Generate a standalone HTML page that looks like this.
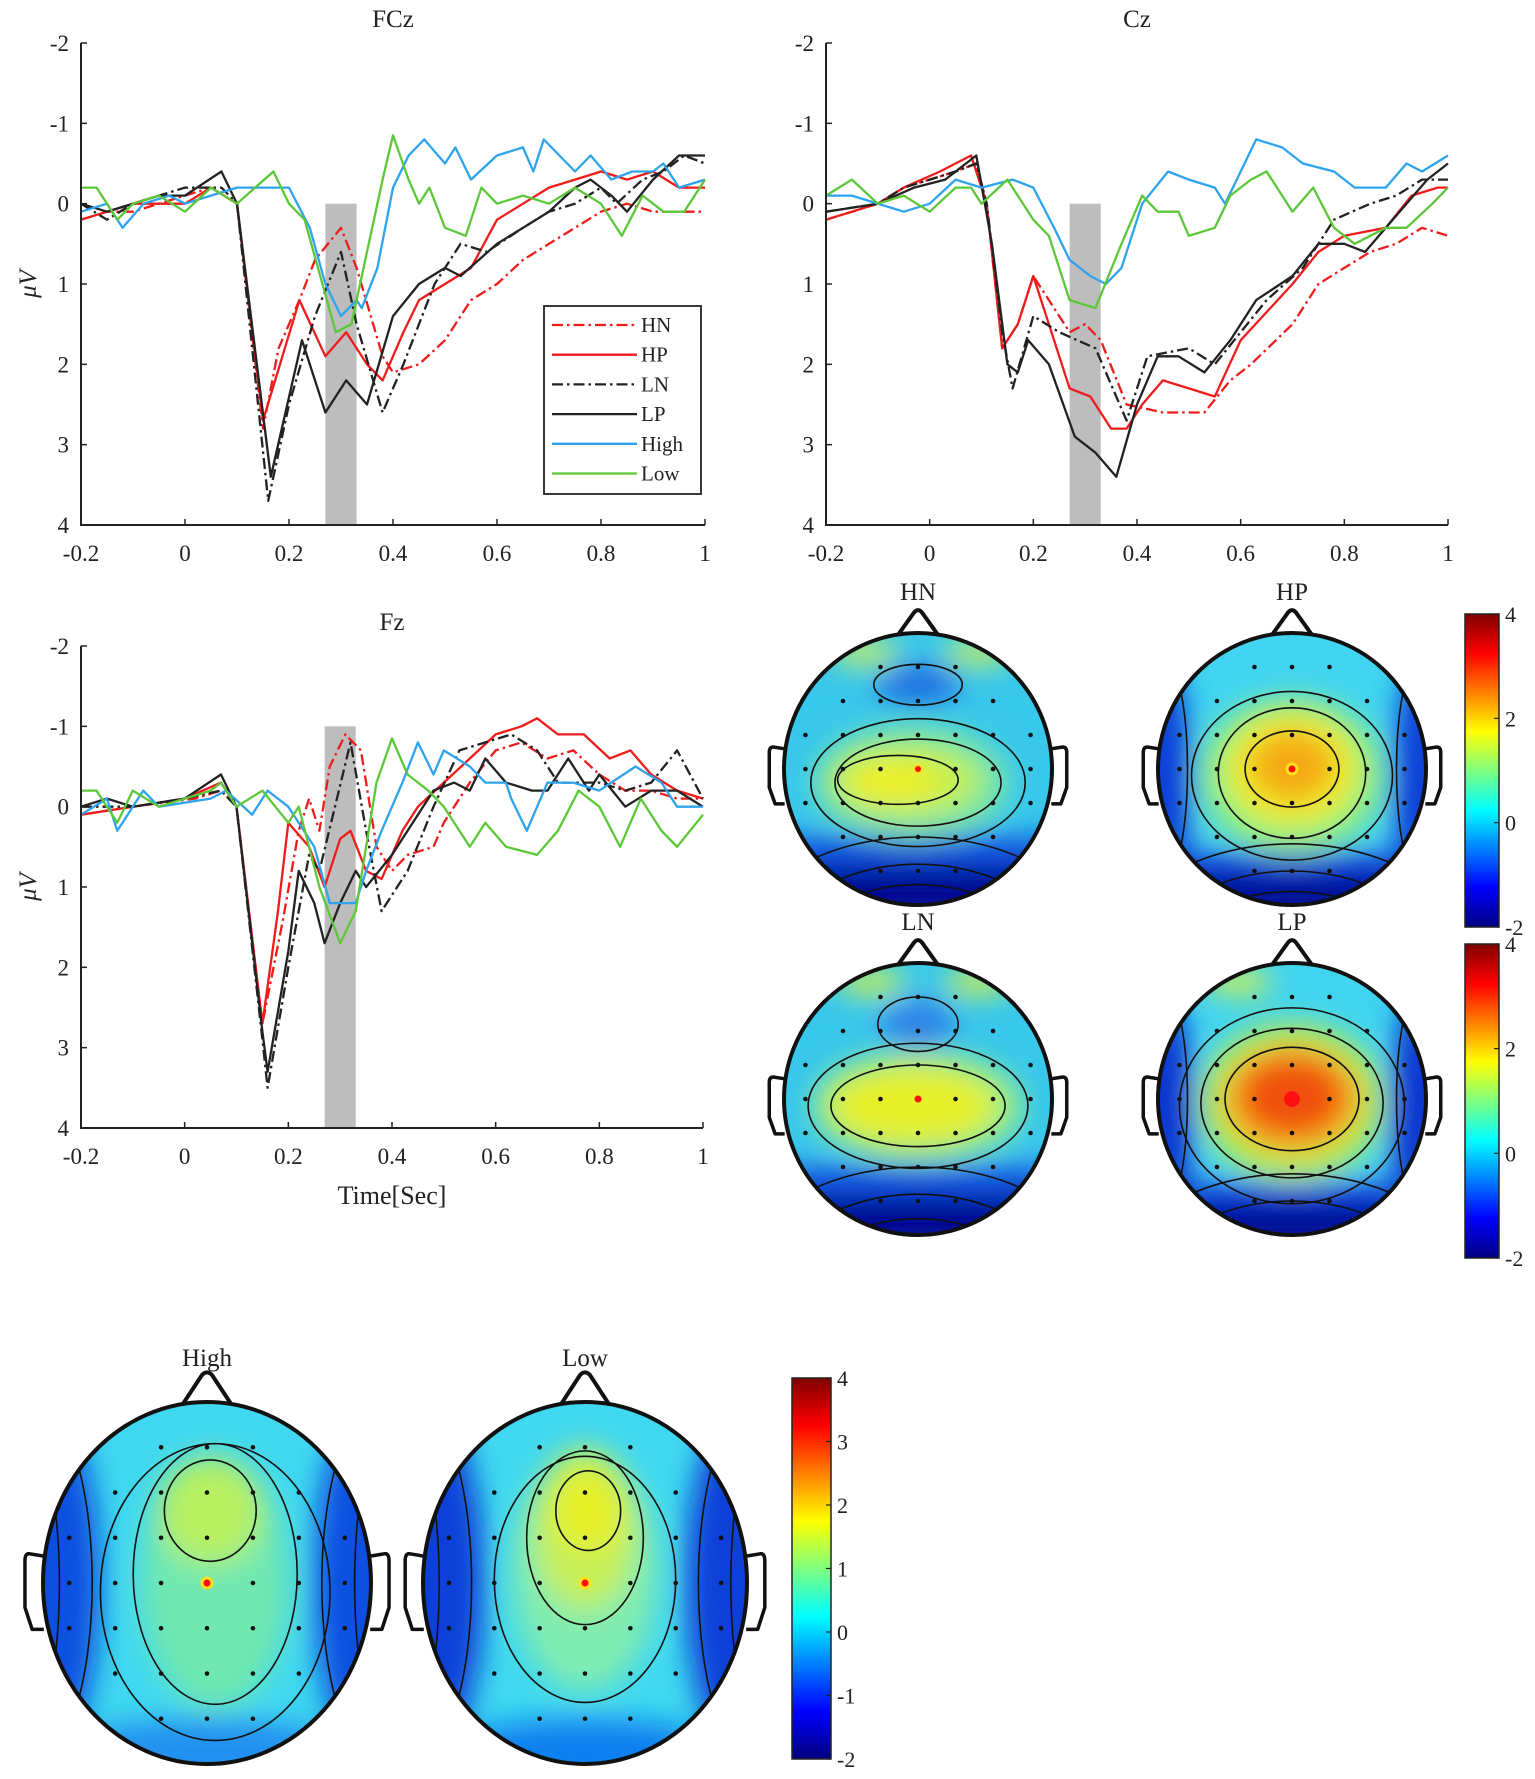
<!DOCTYPE html>
<html><head><meta charset="utf-8"><style>
html,body{margin:0;padding:0;background:#fff}
svg{display:block}
text{font-family:"Liberation Serif",serif;fill:#222}
</style></head><body>
<svg id="fig" width="1535" height="1779" viewBox="0 0 1535 1779" xmlns="http://www.w3.org/2000/svg">
<defs>
<linearGradient id="jet" x1="0" y1="1" x2="0" y2="0">
<stop offset="0" stop-color="#00007f"/><stop offset="0.125" stop-color="#0000ff"/><stop offset="0.375" stop-color="#00ffff"/><stop offset="0.625" stop-color="#ffff00"/><stop offset="0.875" stop-color="#ff0000"/><stop offset="1" stop-color="#7f0000"/>
</linearGradient>
<filter id="blur" x="-20%" y="-20%" width="140%" height="140%"><feGaussianBlur stdDeviation="14"/></filter>
</defs>
<g id="plots"></g>
<g id="heads"></g>
<g id="cbars"></g>
</svg>
<script>
const NS='http://www.w3.org/2000/svg';
// ---- data ----
const xTicks=[-0.2,0,0.2,0.4,0.6,0.8,1];
const xTickLabels=['-0.2','0','0.2','0.4','0.6','0.8','1'];
const yTicks=[-2,-1,0,1,2,3,4];
const yTickLabels=['-2','-1','0','1','2','3','4'];
const seriesNames=['HN','HP','LN','LP','High','Low'];

const fczHN=[[-0.2,0.2],[-0.15,0.1],[-0.1,0.1],[-0.05,0],[0,-0.1],[0.05,-0.2],[0.1,0],[0.15,2.8],[0.18,1.8],[0.22,1.2],[0.25,0.7],[0.3,0.3],[0.33,0.8],[0.38,1.9],[0.4,2.1],[0.45,2.0],[0.5,1.7],[0.55,1.2],[0.6,1.0],[0.65,0.7],[0.7,0.5],[0.75,0.3],[0.8,0.1],[0.85,0],[0.9,0.1],[0.95,0.1],[1,0.1]];
const fczHP=[[-0.2,0.2],[-0.15,0.1],[-0.1,0],[-0.05,0],[0,0],[0.05,-0.2],[0.1,0],[0.15,2.7],[0.22,1.2],[0.27,1.9],[0.31,1.6],[0.35,2.0],[0.38,2.2],[0.42,1.6],[0.45,1.2],[0.5,1.0],[0.55,0.8],[0.6,0.2],[0.65,0],[0.7,-0.2],[0.75,-0.3],[0.8,-0.4],[0.85,-0.3],[0.9,-0.4],[0.95,-0.2],[1,-0.2]];
const fczLN=[[-0.2,0],[-0.15,0.2],[-0.1,0],[-0.05,-0.1],[0,-0.2],[0.07,-0.2],[0.1,0],[0.16,3.7],[0.2,2.5],[0.25,1.4],[0.3,0.6],[0.33,1.5],[0.38,2.6],[0.42,2.0],[0.48,1.0],[0.53,0.5],[0.58,0.6],[0.65,0.3],[0.7,0.1],[0.75,0],[0.8,-0.2],[0.83,0],[0.88,-0.3],[0.92,-0.4],[0.96,-0.6],[1,-0.5]];
const fczLP=[[-0.2,0],[-0.15,0.1],[-0.1,0],[-0.05,-0.1],[0,-0.1],[0.07,-0.4],[0.1,0],[0.165,3.4],[0.225,1.7],[0.27,2.6],[0.31,2.2],[0.35,2.5],[0.4,1.4],[0.45,1.0],[0.5,0.8],[0.53,0.9],[0.6,0.5],[0.65,0.3],[0.7,0.1],[0.75,-0.2],[0.78,-0.3],[0.82,-0.1],[0.85,0.1],[0.9,-0.3],[0.95,-0.6],[1,-0.6]];
const fczHigh=[[-0.2,0.1],[-0.15,0],[-0.12,0.3],[-0.08,0],[-0.03,-0.1],[0,0],[0.05,-0.1],[0.1,-0.2],[0.15,-0.2],[0.2,-0.2],[0.24,0.3],[0.27,1.0],[0.3,1.4],[0.33,1.2],[0.34,1.3],[0.37,0.8],[0.4,-0.2],[0.43,-0.6],[0.46,-0.8],[0.5,-0.5],[0.52,-0.7],[0.55,-0.3],[0.6,-0.6],[0.65,-0.7],[0.67,-0.4],[0.69,-0.8],[0.72,-0.6],[0.75,-0.4],[0.78,-0.6],[0.82,-0.3],[0.86,-0.4],[0.9,-0.4],[0.92,-0.5],[0.95,-0.2],[1,-0.3]];
const fczLow=[[-0.2,-0.2],[-0.17,-0.2],[-0.13,0.2],[-0.1,0],[-0.05,-0.1],[0,0.1],[0.05,-0.2],[0.1,0],[0.17,-0.4],[0.2,0],[0.23,0.2],[0.26,0.9],[0.29,1.6],[0.32,1.5],[0.34,0.9],[0.38,-0.3],[0.4,-0.85],[0.43,-0.3],[0.45,0],[0.47,-0.2],[0.5,0.3],[0.54,0.4],[0.57,-0.2],[0.6,0],[0.65,-0.1],[0.7,0],[0.75,-0.2],[0.8,0],[0.84,0.4],[0.88,-0.1],[0.92,0.1],[0.96,0.1],[1,-0.3]];

const czHN=[[-0.2,0.2],[-0.1,0],[-0.05,-0.2],[0,-0.3],[0.05,-0.4],[0.09,-0.5],[0.11,0],[0.14,1.8],[0.17,1.5],[0.2,0.9],[0.23,1.2],[0.27,1.6],[0.3,1.5],[0.33,1.7],[0.38,2.5],[0.45,2.6],[0.53,2.6],[0.58,2.2],[0.62,2.0],[0.7,1.5],[0.75,1.0],[0.8,0.8],[0.85,0.6],[0.9,0.5],[0.95,0.3],[1,0.4]];
const czHP=[[-0.2,0.2],[-0.1,0],[-0.05,-0.2],[0.02,-0.4],[0.08,-0.6],[0.11,0],[0.14,1.8],[0.17,1.5],[0.2,0.9],[0.23,1.5],[0.27,2.3],[0.31,2.4],[0.35,2.8],[0.38,2.8],[0.41,2.5],[0.45,2.2],[0.5,2.3],[0.55,2.4],[0.6,1.7],[0.7,1.0],[0.75,0.6],[0.8,0.4],[0.88,0.3],[0.93,-0.1],[0.98,-0.2],[1,-0.2]];
const czLN=[[-0.2,0.1],[-0.1,0],[-0.05,-0.2],[0,-0.3],[0.05,-0.4],[0.09,-0.5],[0.11,0],[0.14,1.6],[0.16,2.3],[0.2,1.4],[0.25,1.6],[0.32,1.8],[0.38,2.7],[0.42,1.9],[0.5,1.8],[0.55,2.0],[0.65,1.2],[0.72,0.8],[0.78,0.2],[0.85,0],[0.9,-0.1],[0.95,-0.3],[1,-0.3]];
const czLP=[[-0.2,0.1],[-0.1,0],[-0.03,-0.2],[0.03,-0.3],[0.09,-0.6],[0.12,0.5],[0.15,2.0],[0.17,2.1],[0.19,1.7],[0.23,2.0],[0.28,2.9],[0.32,3.1],[0.36,3.4],[0.4,2.5],[0.44,1.9],[0.48,1.9],[0.53,2.1],[0.58,1.7],[0.63,1.2],[0.7,0.9],[0.75,0.5],[0.8,0.5],[0.84,0.6],[0.88,0.3],[0.96,-0.3],[1,-0.5]];
const czHigh=[[-0.2,-0.1],[-0.15,-0.1],[-0.05,0.1],[0,0],[0.05,-0.3],[0.1,-0.2],[0.16,-0.3],[0.2,-0.2],[0.24,0.3],[0.27,0.7],[0.31,0.9],[0.34,1.0],[0.37,0.8],[0.41,0],[0.46,-0.4],[0.5,-0.3],[0.55,-0.2],[0.57,0],[0.6,-0.4],[0.63,-0.8],[0.68,-0.7],[0.72,-0.5],[0.78,-0.4],[0.82,-0.2],[0.88,-0.2],[0.92,-0.5],[0.95,-0.4],[1,-0.6]];
const czLow=[[-0.2,-0.1],[-0.15,-0.3],[-0.1,0],[-0.05,-0.1],[0,0.1],[0.05,-0.2],[0.08,-0.2],[0.1,0],[0.15,-0.3],[0.2,0.2],[0.23,0.4],[0.27,1.2],[0.32,1.3],[0.37,0.5],[0.41,-0.1],[0.44,0.1],[0.48,0.1],[0.5,0.4],[0.55,0.3],[0.58,-0.1],[0.62,-0.3],[0.65,-0.4],[0.7,0.1],[0.74,-0.2],[0.78,0.3],[0.82,0.5],[0.88,0.3],[0.92,0.3],[0.97,0],[1,-0.2]];

const fzHN=[[-0.2,0.1],[-0.1,0],[0.02,-0.1],[0.07,-0.2],[0.1,0],[0.15,2.7],[0.19,1.4],[0.22,0.3],[0.24,-0.1],[0.26,0.3],[0.28,-0.5],[0.31,-0.9],[0.34,-0.7],[0.37,0.5],[0.4,0.8],[0.43,0.6],[0.48,0.5],[0.5,0.2],[0.55,-0.3],[0.6,-0.7],[0.65,-0.8],[0.7,-0.6],[0.75,-0.7],[0.8,-0.4],[0.85,-0.2],[0.9,-0.2],[0.95,-0.1],[1,-0.1]];
const fzHP=[[-0.2,0.1],[-0.1,0],[0,-0.1],[0.07,-0.3],[0.1,0],[0.15,2.7],[0.18,1.3],[0.2,0.2],[0.24,0.5],[0.27,1.0],[0.3,0.4],[0.32,0.3],[0.35,0.8],[0.38,0.9],[0.42,0.3],[0.45,0],[0.5,-0.3],[0.55,-0.6],[0.6,-0.9],[0.65,-1.0],[0.68,-1.1],[0.72,-0.9],[0.77,-0.9],[0.82,-0.6],[0.86,-0.7],[0.9,-0.4],[0.95,-0.2],[1,-0.1]];
const fzLN=[[-0.2,0],[-0.1,0],[0,-0.1],[0.07,-0.2],[0.1,0],[0.15,2.9],[0.16,3.5],[0.2,2.0],[0.24,0.6],[0.26,0.8],[0.29,0],[0.32,-0.8],[0.35,0.3],[0.38,1.3],[0.43,0.8],[0.48,0],[0.53,-0.7],[0.58,-0.8],[0.63,-0.9],[0.68,-0.7],[0.72,-0.3],[0.8,-0.3],[0.85,-0.2],[0.9,-0.3],[0.95,-0.7],[1,-0.1]];
const fzLP=[[-0.2,0],[-0.15,-0.1],[-0.1,0],[0,-0.1],[0.07,-0.4],[0.1,0],[0.15,2.8],[0.16,3.3],[0.2,1.8],[0.22,0.8],[0.25,1.2],[0.27,1.7],[0.3,1.2],[0.33,0.8],[0.35,1.0],[0.4,0.6],[0.43,0.3],[0.48,-0.2],[0.52,-0.3],[0.55,-0.2],[0.58,-0.6],[0.62,-0.3],[0.67,-0.2],[0.7,-0.2],[0.74,-0.6],[0.78,-0.2],[0.8,-0.4],[0.85,0],[0.9,-0.2],[0.95,-0.2],[1,0]];
const fzHigh=[[-0.2,0.1],[-0.15,-0.1],[-0.13,0.3],[-0.08,-0.2],[-0.05,0],[0.05,-0.1],[0.08,-0.2],[0.13,0.1],[0.16,-0.2],[0.2,0],[0.25,0.5],[0.28,1.2],[0.33,1.2],[0.35,0.8],[0.38,0.3],[0.42,-0.3],[0.45,-0.8],[0.48,-0.4],[0.5,-0.7],[0.55,-0.5],[0.58,-0.3],[0.62,-0.3],[0.63,-0.1],[0.66,0.3],[0.7,-0.3],[0.75,-0.3],[0.8,-0.2],[0.87,-0.5],[0.92,-0.3],[0.95,0],[1,0]];
const fzLow=[[-0.2,-0.2],[-0.17,-0.2],[-0.13,0.2],[-0.1,-0.2],[-0.05,0],[0.05,-0.2],[0.07,-0.3],[0.1,0],[0.15,-0.2],[0.2,0.2],[0.22,0],[0.26,1.0],[0.3,1.7],[0.33,1.3],[0.37,-0.3],[0.4,-0.85],[0.43,-0.4],[0.47,-0.2],[0.5,0],[0.55,0.5],[0.58,0.2],[0.62,0.5],[0.68,0.6],[0.72,0.3],[0.76,-0.2],[0.8,0],[0.84,0.5],[0.88,-0.1],[0.92,0.3],[0.95,0.5],[1,0.1]];

const colorbarTicks1=[4,2,0,-2];
const colorbarTicks3=[4,3,2,1,0,-1,-2];

// ---- helpers ----
function mk(tag,attrs,parent){const e=document.createElementNS(NS,tag);for(const k in attrs)e.setAttribute(k,attrs[k]);if(parent)parent.appendChild(e);return e;}
function txt(s,x,y,size,anchor,parent){const t=mk('text',{x:x,y:y,'font-size':size,'text-anchor':anchor||'middle'},parent);t.textContent=s;return t;}

const styles={HN:{c:'#f01c1c',d:'11 4 2.5 4'},HP:{c:'#f01c1c',d:''},LN:{c:'#222',d:'11 4 2.5 4'},LP:{c:'#222',d:''},High:{c:'#2ea3ee',d:''},Low:{c:'#5cc838',d:''}};

function drawPlot(cfg){
  const g=mk('g',{},document.getElementById('plots'));
  
  
  const X=t=>cfg.x0+(t-(-0.2))/(1.2)*(cfg.x1-cfg.x0);
  const Y=v=>cfg.y0+(v-(-2))/6*(cfg.y1-cfg.y0);
  const gr=mk('rect',{x:X(0.27),y:Y(cfg.grayTop),width:X(0.33)-X(0.27),height:Y(4)-Y(cfg.grayTop),fill:'#bdbdbd'},g);
  
  
  cfg.series.forEach((s,i)=>{
    const st=styles[seriesNames[i]];
    const p=mk('polyline',{points:s.map(d=>X(d[0]).toFixed(1)+','+Y(d[1]).toFixed(1)).join(' '),fill:'none',stroke:st.c,'stroke-width':2.3,'stroke-linejoin':'round','stroke-dasharray':st.d},g);
    
    
  });
  const ax=mk('path',{d:`M${cfg.x0},${Y(-2)} L${cfg.x0},${Y(4)} L${cfg.x1},${Y(4)}`,fill:'none',stroke:'#222','stroke-width':2},g);
  
  
  yTicks.forEach((v,i)=>{
    mk('line',{x1:cfg.x0,x2:cfg.x0+6,y1:Y(v),y2:Y(v),stroke:'#222','stroke-width':1.5},g);
    const t=txt(yTickLabels[i],cfg.x0-12,Y(v)+8,23,'end',g);
    
    
  });
  xTicks.forEach((v,i)=>{
    mk('line',{x1:X(v),x2:X(v),y1:Y(4),y2:Y(4)-6,stroke:'#222','stroke-width':1.5},g);
    const t=txt(xTickLabels[i],X(v),Y(4)+36,23,'middle',g);
    
    
  });
  const tt=txt(cfg.name,(cfg.x0+cfg.x1)/2,cfg.titleY,25,'middle',g);
  
  
  if(cfg.ylab){
    const yl=mk('text',{x:0,y:0,'font-size':25,'text-anchor':'middle',transform:`translate(36,${(Y(-2)+Y(4))/2}) rotate(-90)`,'font-style':'italic'},g);
    yl.textContent='μV';
    
    
  }
  return {g,X,Y};
}

const p1=drawPlot({name:'FCz',x0:81,x1:705,y0:43,y1:525,titleY:27,grayTop:0,series:[fczHN,fczHP,fczLN,fczLP,fczHigh,fczLow],ylab:true});
drawPlot({name:'Cz',x0:826,x1:1448,y0:43,y1:525,titleY:27,grayTop:0,series:[czHN,czHP,czLN,czLP,czHigh,czLow],ylab:false});
const p3=drawPlot({name:'Fz',x0:81,x1:703,y0:646,y1:1128,titleY:630,grayTop:-1,series:[fzHN,fzHP,fzLN,fzLP,fzHigh,fzLow],ylab:true});
const xt=txt('Time[Sec]',392,1204,26,'middle',p3.g);



(function(){
  const g=mk('g',{},p1.g);
  
  
  mk('rect',{x:544,y:306,width:157,height:188,fill:'#fff',stroke:'#222','stroke-width':1.8},g);
  seriesNames.forEach((n,i)=>{
    const y=325+i*29.7;const st=styles[n];
    const e=mk('g',{},g);
    
    
    mk('line',{x1:552,x2:637,y1:y,y2:y,stroke:st.c,'stroke-width':2.3,'stroke-dasharray':st.d},e);
    txt(n,641,y+7,21,'start',e);
  });
})();

function head(cfg){
  const g=mk('g',{},document.getElementById('heads'));
  
  
  const {cx,cy,rx,ry}=cfg;
  const id='clip'+cfg.name;
  const cp=mk('clipPath',{id:id},g);mk('ellipse',{cx,cy,rx,ry},cp);
  const inner=mk('g',{'clip-path':`url(#${id})`},g);
  mk('ellipse',{cx,cy,rx,ry,fill:cfg.base},inner);
  const bl=mk('g',{filter:'url(#blur)'},inner);
  cfg.blobs.forEach(b=>{
    if(b[0]==='r') mk('rect',{x:cx-rx*1.3,y:cy+b[1]*ry,width:rx*2.6,height:ry*(b[2]-b[1]),fill:b[3]},bl);
    else mk('ellipse',{cx:cx+b[0]*rx,cy:cy+b[1]*ry,rx:b[2]*rx,ry:b[3]*ry,fill:b[4]},bl);
  });
  cfg.contours.forEach(c=>{mk('ellipse',{cx:cx+c[0]*rx,cy:cy+c[1]*ry,rx:c[2]*rx,ry:c[3]*ry,fill:'none',stroke:'#111','stroke-width':1.6},inner);});
  for(let v=-0.75;v<=0.76;v+=0.25){for(let u=-0.84;u<=0.85;u+=0.28){
    if(u*u/0.85+v*v/0.85<1 && !(Math.abs(u)<0.01&&Math.abs(v)<0.01)) mk('circle',{cx:cx+u*rx,cy:cy+v*ry,r:2.3,fill:'#111'},inner);
  }}
  const md=mk('circle',{cx:cx+cfg.mark[0]*rx,cy:cy+cfg.mark[1]*ry,r:cfg.mark[2],fill:'#ff1010',stroke:'#ffe020','stroke-width':cfg.mark[3]},g);
  
  
  mk('ellipse',{cx,cy,rx,ry,fill:'none',stroke:'#111','stroke-width':4},g);
  const nw=rx*0.15,nh=ry*0.15;
  mk('path',{d:`M${cx-nw},${cy-ry*0.985} L${cx-nw*0.2},${cy-ry-nh} Q${cx},${cy-ry-nh-5} ${cx+nw*0.2},${cy-ry-nh} L${cx+nw},${cy-ry*0.985}`,fill:'none',stroke:'#111','stroke-width':4,'stroke-linejoin':'round'},g);
  const ew=rx*0.11,eh=ry*0.27;
  [-1,1].forEach(s=>{
    const x0=cx+s*rx*0.995,x1=cx+s*(rx+ew);
    mk('path',{d:`M${x0},${cy-eh*0.55} L${x1-s*4},${cy-eh*0.6} Q${x1},${cy-eh*0.6} ${x1},${cy-eh*0.45} L${x1},${cy+eh*0.5} L${x1-s*ew*0.4},${cy+eh*0.95} L${x0},${cy+eh*0.95}`,fill:'none',stroke:'#111','stroke-width':3.5,'stroke-linejoin':'round'},g);
  });
  const t=txt(cfg.name,cx,cfg.titleY,25,'middle',g);
  
  
}

const bottomBands=[['r',0.5,0.72,'#1050e0'],['r',0.72,1.1,'#000090']];
head({name:'HN',cx:918,cy:769,rx:134,ry:136,titleY:600,base:'#38c8ec',mark:[0,0,4,2],
  blobs:[...bottomBands,[0,-0.62,0.32,0.14,'#1a6ae0'],[-0.05,0.1,0.72,0.42,'#80e8a0'],[-0.1,0.08,0.55,0.25,'#c8f048'],[-0.2,0.1,0.35,0.15,'#f0f020'],[-0.4,-0.86,0.25,0.1,'#c8f060'],[0.45,-0.86,0.25,0.1,'#c8f060']],
  contours:[[-0.15,0.08,0.45,0.18],[0,0.1,0.62,0.32],[0,0.1,0.8,0.47],[0,-0.62,0.33,0.15],[0,1.3,1.3,0.8],[0,1.3,1.0,0.6],[0,1.3,0.8,0.45],[0,1.3,0.6,0.3]]});
head({name:'HP',cx:1292,cy:769,rx:134,ry:136,titleY:600,base:'#40d4f0',mark:[0,0,5,3],
  blobs:[['r',0.62,0.78,'#1040e0'],['r',0.78,1.1,'#000090'],[-1.05,0.1,0.3,1,'#0840d8'],[1.05,0.1,0.3,1,'#0840d8'],[0,0.05,0.68,0.58,'#90f080'],[0,0.0,0.5,0.42,'#f0f020'],[0,-0.02,0.32,0.26,'#f4a818']],
  contours:[[0,0,0.35,0.28],[0,0.03,0.55,0.48],[0,0.05,0.75,0.62],[0,1.35,1.3,0.8],[0,1.35,1.0,0.6],[0,1.35,0.8,0.45],[-1.0,0.0,0.22,0.9],[1.0,0.0,0.22,0.9]]});
head({name:'LN',cx:918,cy:1099,rx:134,ry:136,titleY:930,base:'#38c8ec',mark:[0,0,3.5,0],
  blobs:[...bottomBands,[0,-0.55,0.28,0.18,'#2a80e8'],[0,0.05,0.78,0.4,'#a0f080'],[-0.05,0.05,0.62,0.28,'#e8f028'],[-0.35,-0.86,0.25,0.1,'#d0f050'],[0.45,-0.86,0.25,0.1,'#d0f050']],
  contours:[[0,0.05,0.65,0.3],[0,0.05,0.82,0.46],[0,-0.55,0.3,0.2],[0,1.3,1.3,0.8],[0,1.3,1.0,0.6],[0,1.3,0.75,0.42]]});
head({name:'LP',cx:1292,cy:1099,rx:134,ry:136,titleY:930,base:'#40d4f0',mark:[0,0,8,0],
  blobs:[['r',0.62,0.78,'#1040e0'],['r',0.78,1.1,'#000090'],[-1.05,0.1,0.32,1,'#0838d0'],[1.05,0.1,0.32,1,'#0838d0'],[0,0.02,0.68,0.58,'#b8f050'],[0,0.0,0.52,0.4,'#f8b010'],[0,-0.02,0.4,0.3,'#f05010'],[-0.4,-0.86,0.25,0.1,'#d0f050']],
  contours:[[0,0,0.5,0.38],[0,0.03,0.68,0.55],[0,0.05,0.84,0.72],[0,1.35,1.3,0.8],[0,1.35,1.0,0.6],[-1.0,0.0,0.22,0.9],[1.0,0.0,0.22,0.9]]});
head({name:'High',cx:207,cy:1583,rx:164,ry:181,titleY:1366,base:'#40d8f0',mark:[0,0,5,3],
  blobs:[[-1.0,0,0.35,1,'#0850e0'],[1.0,0,0.35,1,'#0850e0'],[0,0.95,0.9,0.2,'#2090f0'],[0.05,0.0,0.45,0.7,'#70e8b0'],[0.02,-0.4,0.32,0.3,'#b8f060']],
  contours:[[0.02,-0.4,0.28,0.28],[0.05,-0.05,0.5,0.72],[0.05,0.05,0.7,0.82],[-1.1,0,0.4,1.05],[1.1,0,0.4,1.05],[-1.25,0,0.35,1.1],[1.25,0,0.35,1.1]]});
head({name:'Low',cx:585,cy:1583,rx:162,ry:181,titleY:1366,base:'#40d8f0',mark:[0,0,5,3],
  blobs:[[-1.0,0,0.38,1,'#0840d8'],[1.0,0,0.38,1,'#0840d8'],[0,0.95,0.9,0.2,'#1080f0'],[0,-0.05,0.45,0.65,'#80ecb0'],[0,-0.3,0.32,0.45,'#c8f058'],[0.02,-0.4,0.2,0.22,'#e8f020']],
  contours:[[0.02,-0.4,0.2,0.22],[0,-0.25,0.36,0.48],[0,-0.02,0.56,0.68],[-1.1,0,0.4,1.05],[1.1,0,0.4,1.05],[-1.25,0,0.35,1.1],[1.25,0,0.35,1.1]]});

function cbar(name,x,y,w,h,ticks){
  const g=mk('g',{},document.getElementById('cbars'));
  
  
  mk('rect',{x,y,width:w,height:h,fill:'url(#jet)',stroke:'#222','stroke-width':1.5},g);
  const mx=Math.max(...ticks),mn=Math.min(...ticks);
  ticks.forEach(v=>{
    const yy=y+(mx-v)/(mx-mn)*h;
    mk('line',{x1:x+w-5,x2:x+w,y1:yy,y2:yy,stroke:'#222','stroke-width':1.2},g);
    const t=txt(String(v),x+w+6,yy+8,22,'start',g);
    
    
  });
}
cbar('colorbar-top',1465,614,34,313,colorbarTicks1);
cbar('colorbar-middle',1465,944,34,314,colorbarTicks1);
cbar('colorbar-bottom',792,1378,39,381,colorbarTicks3);
</script>
</body></html>
